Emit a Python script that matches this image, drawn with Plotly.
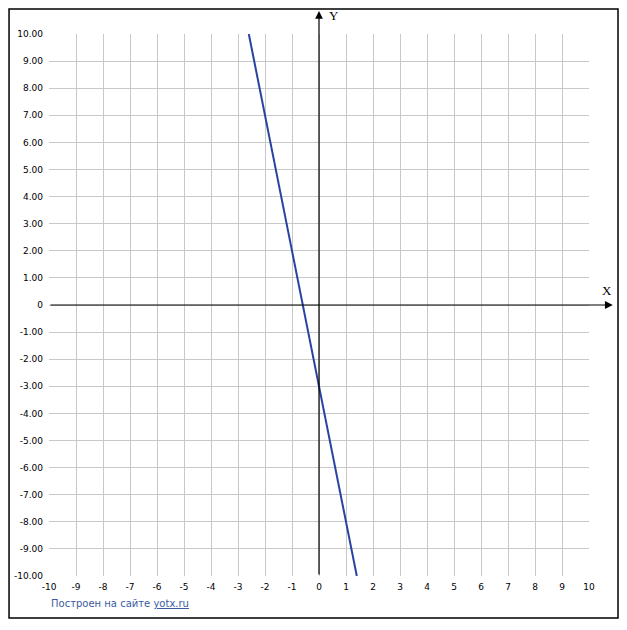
import plotly.graph_objects as go

# Data: straight line y = -5x - 3
line_x = [-2.6, -0.6, 0.0, 1.4]
line_y = [10.0, 0.0, -3.0, -10.0]

x_ticks = list(range(-10, 11))
x_tick_labels = [str(v) for v in x_ticks]
y_ticks = list(range(-10, 11))
y_tick_labels = ["0" if v == 0 else f"{v:.2f}" for v in y_ticks]

fig = go.Figure()
fig.add_trace(go.Scatter(x=line_x, y=line_y, mode="lines",
                         line=dict(color="#2a43a0", width=2), hoverinfo="skip",
                         showlegend=False))

fig.update_layout(
    width=627, height=630,
    margin=dict(l=41, r=46, t=26, b=62, autoexpand=False),
    paper_bgcolor="white", plot_bgcolor="white",
    font=dict(family="DejaVu Sans", size=9, color="#000000"),
    showlegend=False,
)
fig.update_xaxes(range=[-10, 10], tickvals=x_ticks, ticktext=x_tick_labels,
                 showgrid=True, gridcolor="#c8c8c8", gridwidth=1,
                 zeroline=False, showline=False, ticks="", ticklen=0,
                 ticklabelstandoff=4,
                 tickfont=dict(size=9), fixedrange=True)
fig.update_yaxes(range=[-10, 10], tickvals=y_ticks, ticktext=y_tick_labels,
                 showgrid=True, gridcolor="#c8c8c8", gridwidth=1,
                 zeroline=False, showline=False, ticks="", ticklen=0,
                 ticklabelstandoff=5,
                 tickfont=dict(size=9), fixedrange=True)

# outer border
fig.add_shape(type="rect", xref="paper", yref="paper",
              x0=-0.074, x1=1.0537, y0=-0.0775, y1=1.046,
              line=dict(color="black", width=1.5))

# axes with arrows
fig.add_annotation(x=10.88, y=0, ax=-10, ay=0, xref="x", yref="y",
                   axref="x", ayref="y", showarrow=True, arrowhead=2,
                   arrowsize=1.3, arrowwidth=1.2, arrowcolor="black", text="")
fig.add_annotation(x=0, y=10.85, ax=0, ay=-10, xref="x", yref="y",
                   axref="x", ayref="y", showarrow=True, arrowhead=2,
                   arrowsize=1.3, arrowwidth=1.2, arrowcolor="black", text="")
fig.add_annotation(x=1.046, y=0.526, xref="paper", yref="paper", text="X",
                   showarrow=False,
                   font=dict(family="Liberation Serif", size=13, color="black"))
fig.add_annotation(x=0.527, y=1.051, xref="paper", yref="paper", text="Y",
                   showarrow=False,
                   font=dict(family="Liberation Serif", size=13, color="black"))

fig.add_annotation(xref="paper", yref="paper", x=0.0, y=-0.05, xanchor="left",
                   yanchor="middle", showarrow=False,
                   text="Построен на сайте <u>yotx.ru</u>",
                   font=dict(family="DejaVu Sans", size=10, color="#3b5ca0"))

fig.write_html("out.html")
